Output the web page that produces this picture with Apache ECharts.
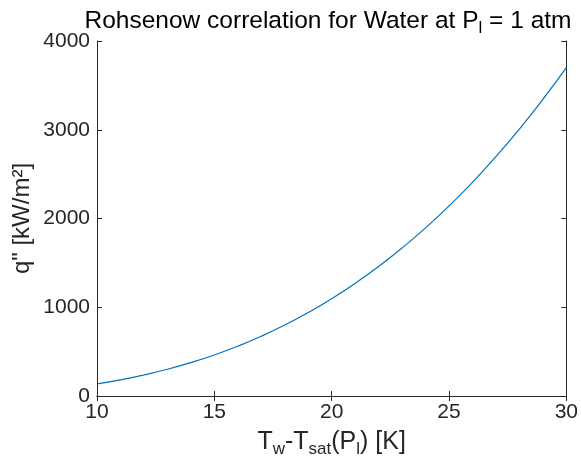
<!DOCTYPE html>
<html>
<head>
<meta charset="utf-8">
<script src="https://cdn.jsdelivr.net/npm/echarts@6/dist/echarts.min.js"></script>
<style>
  html, body { margin: 0; padding: 0; background: #fff; }
  #chart { width: 581px; height: 464px; }
</style>
</head>
<body>
<div id="chart"></div>
<script>
// wall superheat [K]
const deltaT = [10, 11, 12, 13, 14, 15, 16, 17, 18, 19, 20, 21, 22, 23, 24, 25, 26, 27, 28, 29, 30]
// heat flux q'' [kW/m2]
const heatFlux = [137, 182, 237, 301, 376, 462, 561, 673, 799, 940, 1096, 1269, 1459, 1667, 1894, 2141, 2408, 2697, 3007, 3341, 3699]
const xTicks = [10, 15, 20, 25, 30]
const yTicks = [0, 1000, 2000, 3000, 4000]

const font = "'Liberation Sans', Arial, Helvetica, sans-serif"
const ink = '#262626'
const subStyle = { fontSize: 17, fontFamily: font, color: ink, padding: [15, 0, 0, 0] }

const tickStyle = { show: true, inside: true, length: 5, lineStyle: { color: ink } }
const lineStyle = { show: true, lineStyle: { color: ink, width: 1 } }

const chart = echarts.init(document.getElementById('chart'), null, { renderer: 'canvas' })
chart.setOption({
  animation: false,
  backgroundColor: '#fff',
  title: {
    text: 'Rohsenow correlation for Water at P{sub|l} = 1 atm',
    left: 323,
    textAlign: 'center',
    top: 0,
    textStyle: {
      fontFamily: font,
      fontSize: 24.5,
      fontWeight: 'normal',
      color: '#000',
      rich: { sub: Object.assign({}, subStyle, { color: '#000' }) },
    },
  },
  grid: { left: 97, top: 41, right: 13, bottom: 68, containLabel: false },
  xAxis: [
    {
      type: 'value',
      min: xTicks[0],
      max: xTicks[xTicks.length - 1],
      interval: 5,
      name: 'T{sub|w}-T{sub|sat}(P{sub|l}) [K]',
      nameLocation: 'middle',
      nameGap: 30,
      nameMoveOverlap: false,
      nameTextStyle: { fontFamily: font, fontSize: 25, color: ink, rich: { sub: subStyle } },
      axisLine: lineStyle,
      axisTick: tickStyle,
      axisLabel: { fontFamily: font, fontSize: 21, color: ink, margin: 6 },
      splitLine: { show: false },
    },
    {
      type: 'value',
      position: 'top',
      min: xTicks[0],
      max: xTicks[xTicks.length - 1],
      interval: 5,
      axisLine: lineStyle,
      axisTick: tickStyle,
      axisLabel: { show: false },
      splitLine: { show: false },
    },
  ],
  yAxis: [
    {
      type: 'value',
      min: yTicks[0],
      max: yTicks[yTicks.length - 1],
      interval: 1000,
      name: 'q" [kW/m²]',
      nameLocation: 'middle',
      nameGap: 63,
      nameMoveOverlap: false,
      nameTextStyle: { fontFamily: font, fontSize: 24, color: ink },
      axisLine: lineStyle,
      axisTick: tickStyle,
      axisLabel: { fontFamily: font, fontSize: 21, color: ink, margin: 7, formatter: (v) => String(v) },
      splitLine: { show: false },
    },
    {
      type: 'value',
      position: 'right',
      min: yTicks[0],
      max: yTicks[yTicks.length - 1],
      interval: 1000,
      axisLine: lineStyle,
      axisTick: tickStyle,
      axisLabel: { show: false },
      splitLine: { show: false },
    },
  ],
  series: [
    {
      type: 'line',
      data: deltaT.map((t, i) => [t, heatFlux[i]]),
      showSymbol: false,
      smooth: true,
      lineStyle: { color: '#0072BD', width: 1.2 },
    },
  ],
})
</script>
</body>
</html>
